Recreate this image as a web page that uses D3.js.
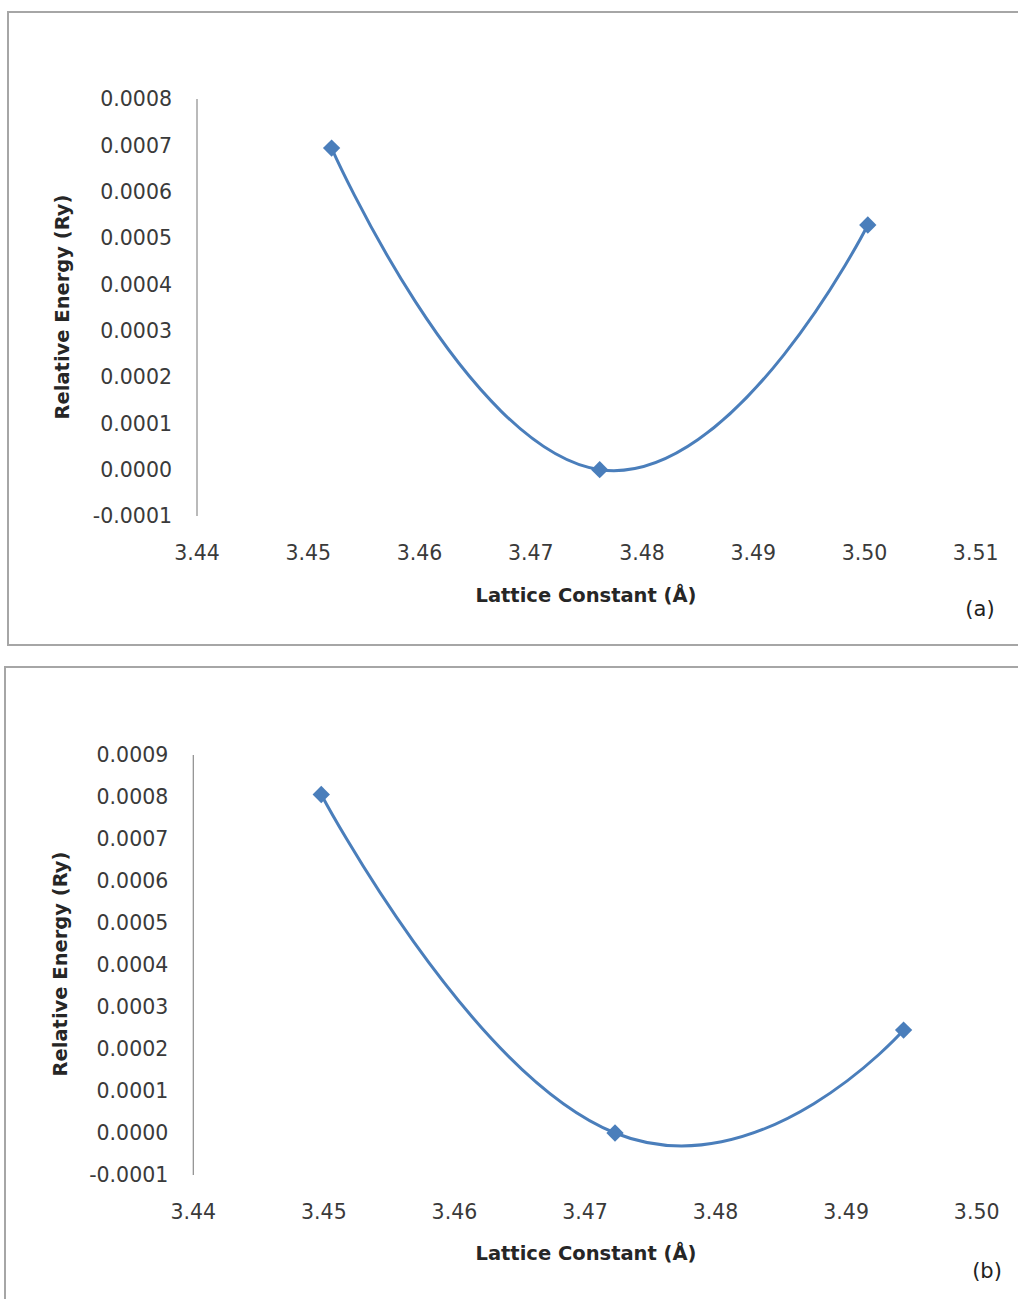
<!DOCTYPE html>
<html>
<head>
<meta charset="utf-8">
<script src="https://cdn.jsdelivr.net/npm/d3@7"></script>
<style>
  body { margin: 0; background: #fff; }
  svg { display: block; }
  .tick-label { font-family: "DejaVu Sans", sans-serif; font-size: 20.5px; fill: #3a3a3a; }
  .axis-title { font-family: "DejaVu Sans", sans-serif; font-size: 19.5px; font-weight: bold; fill: #262626; }
  .panel-tag { font-family: "DejaVu Sans", sans-serif; font-size: 21px; fill: #222; }
</style>
</head>
<body>
<svg id="chart" width="1018" height="1299"></svg>
<script>
// panel (a)
var latticeA = [3.4521, 3.4762, 3.5003];
var energyA  = [0.000694, 0.0, 0.000528];
var xTicksA  = [3.44, 3.45, 3.46, 3.47, 3.48, 3.49, 3.50, 3.51];
var yTicksA  = [-0.0001, 0.0000, 0.0001, 0.0002, 0.0003, 0.0004, 0.0005, 0.0006, 0.0007, 0.0008];

// panel (b)
var latticeB = [3.4498, 3.4723, 3.4944];
var energyB  = [0.000806, 0.0, 0.000245];
var xTicksB  = [3.44, 3.45, 3.46, 3.47, 3.48, 3.49, 3.50];
var yTicksB  = [-0.0001, 0.0000, 0.0001, 0.0002, 0.0003, 0.0004, 0.0005, 0.0006, 0.0007, 0.0008, 0.0009];

var xTitle = "Lattice Constant  (\u00C5)";
var yTitle = "Relative Energy  (Ry)";

var blue = "#4a7ebb";

function drawPanel(svg, opt) {
    var g = svg.append("g");

    // frame
    g.append("rect")
      .attr("x", opt.box.x).attr("y", opt.box.y)
      .attr("width", opt.box.w).attr("height", opt.box.h)
      .attr("fill", "none")
      .attr("stroke", "#a6a6a6")
      .attr("stroke-width", 2);

    var x = d3.scaleLinear()
      .domain(d3.extent(opt.xTicks))
      .range([opt.plot.left, opt.plot.right]);
    var y = d3.scaleLinear()
      .domain(d3.extent(opt.yTicks))
      .range([opt.plot.bottom, opt.plot.top]);

    // vertical axis line only
    g.append("line")
      .attr("x1", opt.plot.left).attr("x2", opt.plot.left)
      .attr("y1", y.range()[1]).attr("y2", y.range()[0])
      .attr("stroke", "#8c8c8c")
      .attr("stroke-width", 1.2);

    g.selectAll(".ylab")
      .data(opt.yTicks)
      .enter().append("text")
      .attr("class", "tick-label")
      .attr("text-anchor", "end")
      .attr("x", opt.plot.left - 25)
      .attr("y", function(d) { return y(d); })
      .attr("dy", "0.36em")
      .text(function(d) { return d3.format(".4f")(d).replace("\u2212", "-"); });

    g.selectAll(".xlab")
      .data(opt.xTicks)
      .enter().append("text")
      .attr("class", "tick-label")
      .attr("text-anchor", "middle")
      .attr("x", function(d) { return x(d); })
      .attr("y", opt.plot.bottom + 37)
      .attr("dy", "0.36em")
      .text(function(d) { return d3.format(".2f")(d); });

    g.append("text")
      .attr("class", "axis-title")
      .attr("text-anchor", "middle")
      .attr("x", opt.xTitlePos[0]).attr("y", opt.xTitlePos[1])
      .attr("dy", "0.36em")
      .text(xTitle);

    g.append("text")
      .attr("class", "axis-title")
      .attr("text-anchor", "middle")
      .attr("transform", "translate(" + opt.yTitlePos[0] + "," + opt.yTitlePos[1] + ") rotate(-90)")
      .attr("dy", "0.36em")
      .text(yTitle);

    g.append("text")
      .attr("class", "panel-tag")
      .attr("text-anchor", "middle")
      .attr("x", opt.tagPos[0]).attr("y", opt.tagPos[1])
      .attr("dy", "0.36em")
      .text(opt.tag);

    var pts = opt.xs.map(function(v, i) { return [v, opt.ys[i]]; });

    var line = d3.line()
      .x(function(d) { return x(d[0]); })
      .y(function(d) { return y(d[1]); })
      .curve(d3.curveCardinal.tension(-0.5));

    g.append("path")
      .datum(pts)
      .attr("d", line)
      .attr("fill", "none")
      .attr("stroke", blue)
      .attr("stroke-width", 3);

    g.selectAll(".pt")
      .data(pts)
      .enter().append("path")
      .attr("d", d3.symbol().type(d3.symbolSquare).size(150))
      .attr("transform", function(d) {
          return "translate(" + x(d[0]) + "," + y(d[1]) + ") rotate(45)";
      })
      .attr("fill", blue);
}

var svg = d3.select("#chart");

drawPanel(svg, {
    box: { x: 8, y: 12, w: 1040, h: 633 },
    plot: { left: 197, right: 975.7, top: 99, bottom: 516 },
    xTicks: xTicksA, yTicks: yTicksA,
    xs: latticeA, ys: energyA,
    xTitlePos: [586, 595],
    yTitlePos: [62, 307],
    tagPos: [980, 608],
    tag: "(a)"
});

drawPanel(svg, {
    box: { x: 5, y: 667, w: 1040, h: 660 },
    plot: { left: 193.3, right: 976.7, top: 755, bottom: 1175 },
    xTicks: xTicksB, yTicks: yTicksB,
    xs: latticeB, ys: energyB,
    xTitlePos: [586, 1253],
    yTitlePos: [60, 964],
    tagPos: [987, 1270],
    tag: "(b)"
});
</script>
</body>
</html>
